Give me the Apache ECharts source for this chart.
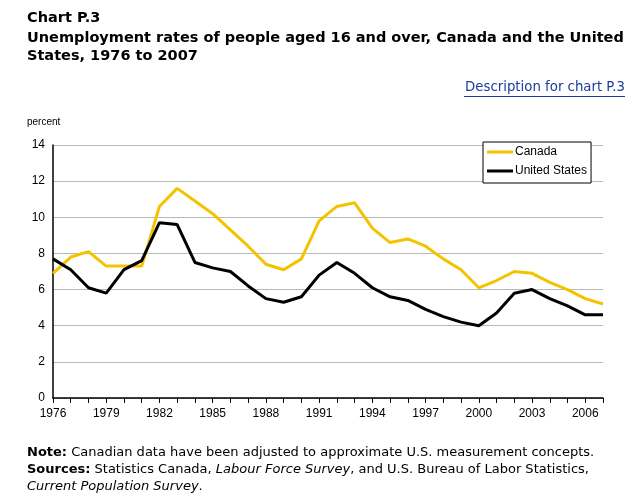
<!DOCTYPE html>
<html><head><meta charset="utf-8">
<script src="https://cdn.jsdelivr.net/npm/echarts@6/dist/echarts.min.js"></script>
<style>html,body{margin:0;padding:0;background:#fff}#c{width:628px;height:496px}</style>
</head><body><div id="c"></div>
<script>
const years = ['1976','1977','1978','1979','1980','1981','1982','1983','1984','1985','1986','1987','1988','1989','1990','1991','1992','1993','1994','1995','1996','1997','1998','1999','2000','2001','2002','2003','2004','2005','2006','2007'];
const canada = [6.9,7.8,8.1,7.3,7.3,7.3,10.6,11.6,10.9,10.2,9.3,8.4,7.4,7.1,7.7,9.8,10.6,10.8,9.4,8.6,8.8,8.4,7.7,7.1,6.1,6.5,7.0,6.9,6.4,6.0,5.5,5.2];
const unitedStates = [7.7,7.1,6.1,5.8,7.1,7.6,9.7,9.6,7.5,7.2,7.0,6.2,5.5,5.3,5.6,6.8,7.5,6.9,6.1,5.6,5.4,4.9,4.5,4.2,4.0,4.7,5.8,6.0,5.5,5.1,4.6,4.6];
const yTicks = {min:0, max:14, interval:2};

const chart = echarts.init(document.getElementById('c'), null, {renderer:'canvas'});
const vf = 'Verdana, "DejaVu Sans", sans-serif';
const af = 'Arial, "Liberation Sans", sans-serif';
chart.setOption({
  animation:false,
  backgroundColor:'#fff',
  grid:{left:53, top:145, right:25, bottom:98, containLabel:false},
  legend:{
    orient:'vertical', left:483, top:142, width:110,
    backgroundColor:'#fff', borderColor:'#000', borderWidth:1,
    padding:[4,4,6,4], itemGap:7, itemWidth:26, itemHeight:3,
    textStyle:{fontFamily:af, fontSize:12, color:'#000', padding:[0,0,0,-3]},
    data:[{name:'Canada', icon:'rect'},{name:'United States', icon:'rect'}]
  },
  xAxis:{
    type:'category', boundaryGap:false, data:years,
    axisLine:{lineStyle:{color:'#000', width:1.5}},
    axisTick:{show:true, interval:0, length:5, lineStyle:{color:'#000'}},
    axisLabel:{interval:2, color:'#000', fontFamily:af, fontSize:12, margin:10}
  },
  yAxis:{
    type:'value', min:yTicks.min, max:yTicks.max, interval:yTicks.interval,
    axisLine:{show:true, lineStyle:{color:'#000', width:1.5}},
    axisTick:{show:false},
    axisLabel:{color:'#000', fontFamily:af, fontSize:12, margin:8},
    splitLine:{lineStyle:{color:'#b8b8b8', width:1}}
  },
  series:[
    {name:'Canada', type:'line', data:canada, symbol:'none', color:'#f4c300', lineStyle:{width:3, color:'#f4c300'}},
    {name:'United States', type:'line', data:unitedStates, symbol:'none', color:'#000', lineStyle:{width:3, color:'#000'}}
  ],
  graphic:[
    {type:'text', left:27, top:11, style:{text:'Chart P.3', font:'bold 14.5px '+vf, fill:'#000'}},
    {type:'text', left:27, top:29, style:{text:'Unemployment rates of people aged 16 and over, Canada and the United\nStates, 1976 to 2007', font:'bold 14.5px '+vf, lineHeight:18, fill:'#000'}},
    {type:'text', right:3, top:81, style:{text:'Description for chart P.3', font:'13.3px '+vf, fill:'#1b3c9b'}},
    {type:'rect', shape:{x:464, y:96, width:161, height:1}, style:{fill:'#1b3c9b'}},
    {type:'text', left:27, top:117, style:{text:'percent', font:'10px '+af, fill:'#000'}},
    {type:'text', left:27, top:444, style:{
      text:'{b|Note:} Canadian data have been adjusted to approximate U.S. measurement concepts.\n{b|Sources:} Statistics Canada, {i|Labour Force Survey}, and U.S. Bureau of Labor Statistics,\n{i|Current Population Survey}.',
      font:'13px '+vf, lineHeight:17, fill:'#000',
      rich:{b:{fontWeight:'bold', fontFamily:vf, fontSize:13}, i:{fontStyle:'italic', fontFamily:vf, fontSize:13}}
    }}
  ]
});
</script></body></html>
